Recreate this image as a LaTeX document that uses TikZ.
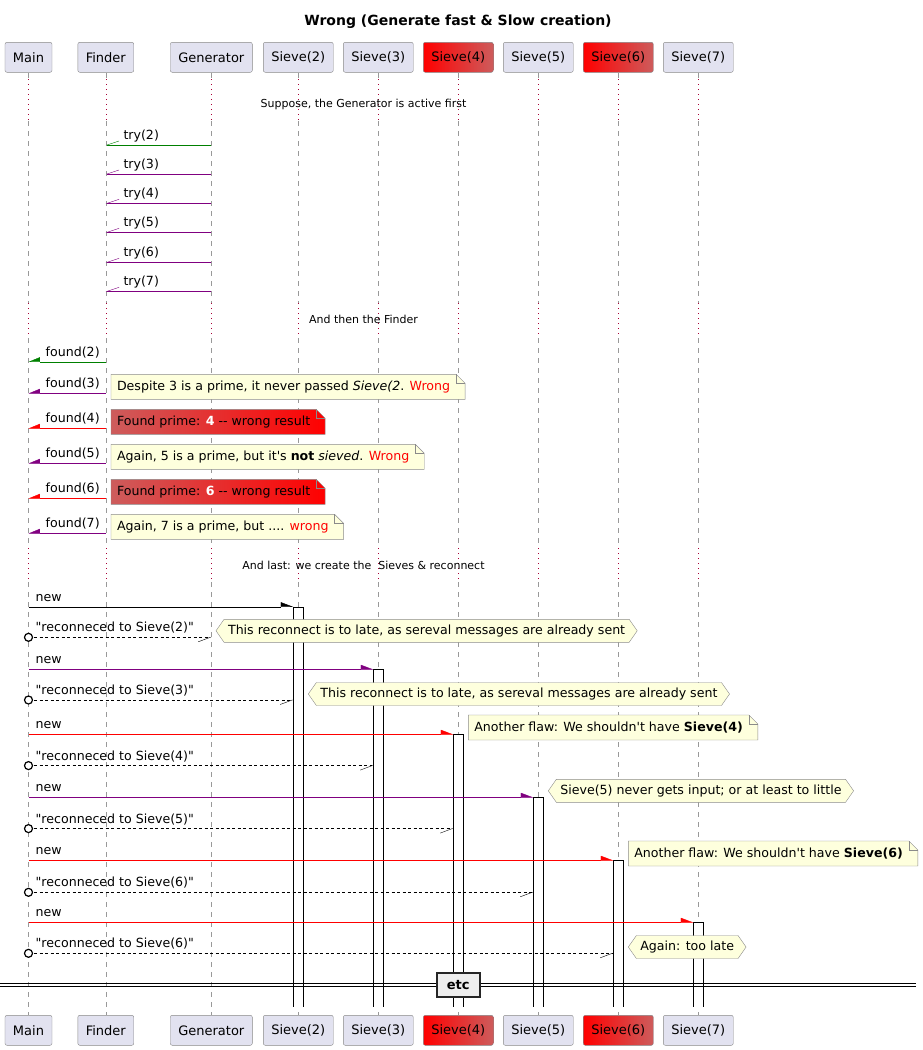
\documentclass[tikz,border=0pt]{standalone}
\usepackage{fontspec}
\setmainfont{DejaVu Sans}[Ligatures=TeXOff]
\usetikzlibrary{arrows.meta, shapes.symbols, positioning}

\definecolor{partbg}{HTML}{E2E2F0}
\definecolor{partline}{HTML}{888888}
\definecolor{lifegray}{HTML}{999999}
\definecolor{delaydot}{HTML}{A80036}
\definecolor{msggreen}{HTML}{008000}
\definecolor{msgpurple}{HTML}{800080}
\definecolor{notebg}{HTML}{FEFFDD}
\definecolor{noteline}{HTML}{8A8A8A}
\definecolor{indianred}{HTML}{CD5C5C}
\definecolor{etcbg}{HTML}{EEEEEE}

\newcommand{\titlefont}{\fontsize{14}{17}\selectfont\bfseries}
\newcommand{\partfont}{\fontsize{13}{16}\selectfont}
\newcommand{\msgfont}{\fontsize{12.6}{15}\selectfont}
\newcommand{\delayfont}{\fontsize{11}{13}\selectfont}

\pgfdeclarelayer{lanes}
\pgfdeclarelayer{paper}
\pgfsetlayers{lanes,paper,main}

% note with a folded corner: name, fill style, north west corner, text
\newcommand{\foldnote}[4]{%
  \node[notetext] (#1) at (#3) {#4};
  \begin{pgfonlayer}{paper}
    \path[#2] (#1.north west) -- (#1.north east) -- ([xshift=9,yshift=-9]#1.north east)
      -- ([xshift=9]#1.south east) -- (#1.south west) -- cycle;
    \draw[noteline] (#1.north east) |- ([xshift=9,yshift=-9]#1.north east);
  \end{pgfonlayer}
}

\begin{document}
\begin{tikzpicture}[x=1pt, y=-1pt,
    part/.style={draw=partline, fill=partbg, rounded corners=2, minimum height=30, inner xsep=8, font=\partfont},
    redpart/.style={part, left color=red, right color=indianred},
    life/.style={lifegray, dash pattern=on 5pt off 5pt},
    delay/.style={delaydot, dash pattern=on 1.2pt off 3.8pt},
    act/.style={fill=white, minimum width=10, inner sep=0, outer sep=0, anchor=north},
    lbl/.style={anchor=base west, inner sep=0, text=black, font=\msgfont},
    feed/.style={#1, -{Straight Barb[right, length=12pt, width=8pt]}},
    report/.style={#1, -{Triangle[right, length=11pt, width=9pt]}},
    create/.style={#1, -{Triangle[left, length=12pt, width=9pt]}},
    reply/.style={black, dash pattern=on 3pt off 2.5pt, -{Straight Barb[right, length=12pt, width=9pt]}},
    circ/.style={circle, solid, draw=black, fill=white, line width=1.2pt, minimum size=8, inner sep=0},
    notetext/.style={anchor=north west, inner xsep=6, inner ysep=0, outer sep=0, minimum height=25, font=\msgfont},
    notefill/.style={draw=noteline, fill=notebg},
    redfill/.style={draw=noteline, left color=indianred, right color=red},
    hexnote/.style={signal, signal to=west and east, signal pointer angle=110, draw=noteline, fill=notebg,
        anchor=west, inner xsep=4, inner ysep=0, outer sep=0, minimum height=23, font=\msgfont},
    delaytext/.style={font=\delayfont, inner sep=0},
    etcbox/.style={draw=black!85, line width=2pt, fill=etcbg, minimum width=43, minimum height=23.5, font=\partfont\bfseries}
]
    \useasboundingbox (0,0) rectangle (922,1050);

    % Title
    \node[font=\titlefont] (title) at (458,22) {Wrong (Generate fast \& Slow creation)};

    % Participants
    \node[part] (main) at (28.5,57.3) {Main};
    \node[part] (finder) at (105.8,57.3) {Finder};
    \node[part] (gen) at (211.3,57.3) {Generator};
    \node[part] (s2) at (298.3,57.3) {Sieve(2)};
    \node[part] (s3) at (378.3,57.3) {Sieve(3)};
    \node[redpart] (s4) at (458.3,57.3) {Sieve(4)};
    \node[part] (s5) at (538.3,57.3) {Sieve(5)};
    \node[redpart] (s6) at (618.3,57.3) {Sieve(6)};
    \node[part] (s7) at (698.3,57.3) {Sieve(7)};

    \node[part] (main-b) at (28.5,1030.3) {Main};
    \node[part] (finder-b) at (105.8,1030.3) {Finder};
    \node[part] (gen-b) at (211.3,1030.3) {Generator};
    \node[part] (s2-b) at (298.3,1030.3) {Sieve(2)};
    \node[part] (s3-b) at (378.3,1030.3) {Sieve(3)};
    \node[redpart] (s4-b) at (458.3,1030.3) {Sieve(4)};
    \node[part] (s5-b) at (538.3,1030.3) {Sieve(5)};
    \node[redpart] (s6-b) at (618.3,1030.3) {Sieve(6)};
    \node[part] (s7-b) at (698.3,1030.3) {Sieve(7)};

    % Lifelines and activations
    \begin{pgfonlayer}{lanes}
    \foreach \p in {main,finder,gen,s2,s3,s4,s5,s6,s7}{
        \draw[life] (\p.south) -- (\p |- 0,79);
        \draw[delay] (\p |- 0,79) -- (\p |- 0,121);
        \draw[life] (\p |- 0,121) -- (\p |- 0,303);
        \draw[delay] (\p |- 0,303) -- (\p |- 0,338);
        \draw[life] (\p |- 0,338) -- (\p |- 0,548);
        \draw[delay] (\p |- 0,548) -- (\p |- 0,582);
        \draw[life] (\p |- 0,582) -- (\p-b.north);
    }
    \node[act, minimum height=400] (a2) at (s2 |- 0,606.7) {};
    \node[act, minimum height=337.4] (a3) at (s3 |- 0,669.3) {};
    \node[act, minimum height=272.4] (a4) at (s4 |- 0,734.3) {};
    \node[act, minimum height=209.4] (a5) at (s5 |- 0,797.3) {};
    \node[act, minimum height=146.4] (a6) at (s6 |- 0,860.3) {};
    \node[act, minimum height=84.4] (a7) at (s7 |- 0,922.3) {};
    \foreach \a in {a2,a3,a4,a5,a6,a7}
        \draw (\a.south west) |- (\a.north east) -- (\a.south east);
    \end{pgfonlayer}

    % Generator first
    \node[delaytext] (d1) at (363.5,104) {Suppose, the Generator is active first};
    \draw[feed=msggreen] (gen |- 0,145) -- (finder |- 0,145) node[lbl, xshift=17.5, yshift=5.5] {try(2)};
    \draw[feed=msgpurple] (gen |- 0,174) -- (finder |- 0,174) node[lbl, xshift=17.5, yshift=5.5] {try(3)};
    \draw[feed=msgpurple] (gen |- 0,203.3) -- (finder |- 0,203.3) node[lbl, xshift=17.5, yshift=5.5] {try(4)};
    \draw[feed=msgpurple] (gen |- 0,232.3) -- (finder |- 0,232.3) node[lbl, xshift=17.5, yshift=5.5] {try(5)};
    \draw[feed=msgpurple] (gen |- 0,262.3) -- (finder |- 0,262.3) node[lbl, xshift=17.5, yshift=5.5] {try(6)};
    \draw[feed=msgpurple] (gen |- 0,291.3) -- (finder |- 0,291.3) node[lbl, xshift=17.5, yshift=5.5] {try(7)};

    % Then the Finder
    \node[delaytext] (d2) at (363.5,319) {And then the Finder};
    \draw[report=msggreen] (finder |- 0,361.7) -- (main |- 0,361.7) node[lbl, xshift=17, yshift=5.5] {found(2)};
    \draw[report=msgpurple] (finder |- 0,393.3) -- (main |- 0,393.3) node[lbl, xshift=17, yshift=5.5] {found(3)};
    \draw[report=red] (finder |- 0,428.3) -- (main |- 0,428.3) node[lbl, xshift=17, yshift=5.5] {found(4)};
    \draw[report=msgpurple] (finder |- 0,463.3) -- (main |- 0,463.3) node[lbl, xshift=17, yshift=5.5] {found(5)};
    \draw[report=red] (finder |- 0,498.3) -- (main |- 0,498.3) node[lbl, xshift=17, yshift=5.5] {found(6)};
    \draw[report=msgpurple] (finder |- 0,533.3) -- (main |- 0,533.3) node[lbl, xshift=17, yshift=5.5] {found(7)};

    \foldnote{n1}{notefill}{111,374.3}{Despite 3 is a prime, it never passed \textit{Sieve(2}. \textcolor{red}{Wrong}}
    \foldnote{n2}{redfill}{111,409.3}{Found prime: \textbf{\textcolor{white}{4}} -- wrong result}
    \foldnote{n3}{notefill}{111,444.3}{Again, 5 is a prime, but it's \textbf{not} \textit{sieved}. \textcolor{red}{Wrong}}
    \foldnote{n4}{redfill}{111,479.3}{Found prime: \textbf{\textcolor{white}{6}} -- wrong result}
    \foldnote{n5}{notefill}{111,514.3}{Again, 7 is a prime, but .... \textcolor{red}{wrong}}

    % Sieves created last
    \node[delaytext] (d3) at (363.5,565) {And last: we create the \ Sieves \& reconnect};

    \draw[create=black] (main |- a2.north) node[lbl, xshift=7, yshift=5.5] {new} -- (a2.north west);
    \draw[reply] (main |- 0,637.3) node[circ] {} node[lbl, xshift=7, yshift=5.5] {"reconneced to Sieve(2)"} -- (gen |- 0,637.3);
    \node[hexnote] (h1) at (216,630.8) {This reconnect is to late, as sereval messages are already sent};

    \draw[create=msgpurple] (main |- a3.north) node[lbl, xshift=7, yshift=5.5] {new} -- (a3.north west);
    \draw[reply] (main |- 0,700) node[circ] {} node[lbl, xshift=7, yshift=5.5] {"reconneced to Sieve(3)"} -- (a2.west |- 0,700);
    \node[hexnote] (h2) at (308.3,694) {This reconnect is to late, as sereval messages are already sent};

    \draw[create=red] (main |- a4.north) node[lbl, xshift=7, yshift=5.5] {new} -- (a4.north west);
    \foldnote{n6}{notefill}{468.3,715}{Another flaw: We shouldn't have \textbf{Sieve(4)}}
    \draw[reply] (main |- 0,765.6) node[circ] {} node[lbl, xshift=7, yshift=5.5] {"reconneced to Sieve(4)"} -- (a3.west |- 0,765.6);

    \draw[create=msgpurple] (main |- a5.north) node[lbl, xshift=7, yshift=5.5] {new} -- (a5.north west);
    \node[hexnote] (h3) at (548.3,790.8) {Sieve(5) never gets input; or at least to little};
    \draw[reply] (main |- 0,828.6) node[circ] {} node[lbl, xshift=7, yshift=5.5] {"reconneced to Sieve(5)"} -- (a4.west |- 0,828.6);

    \draw[create=red] (main |- a6.north) node[lbl, xshift=7, yshift=5.5] {new} -- (a6.north west);
    \foldnote{n7}{notefill}{628.3,841}{Another flaw: We shouldn't have \textbf{Sieve(6)}}
    \draw[reply] (main |- 0,892.3) node[circ] {} node[lbl, xshift=7, yshift=5.5] {"reconneced to Sieve(6)"} -- (a5.west |- 0,892.3);

    \draw[create=red] (main |- a7.north) node[lbl, xshift=7, yshift=5.5] {new} -- (a7.north west);
    \draw[reply] (main |- 0,953.3) node[circ] {} node[lbl, xshift=7, yshift=5.5] {"reconneced to Sieve(6)"} -- (a6.west |- 0,953.3);
    \node[hexnote] (h4) at (628.3,947) {Again: too late};

    % Divider
    \draw (0,983.3) -- (916,983.3);
    \draw (0,986.3) -- (916,986.3);
    \node[etcbox] (etc) at (458.3,985) {etc};
\end{tikzpicture}
\end{document}
